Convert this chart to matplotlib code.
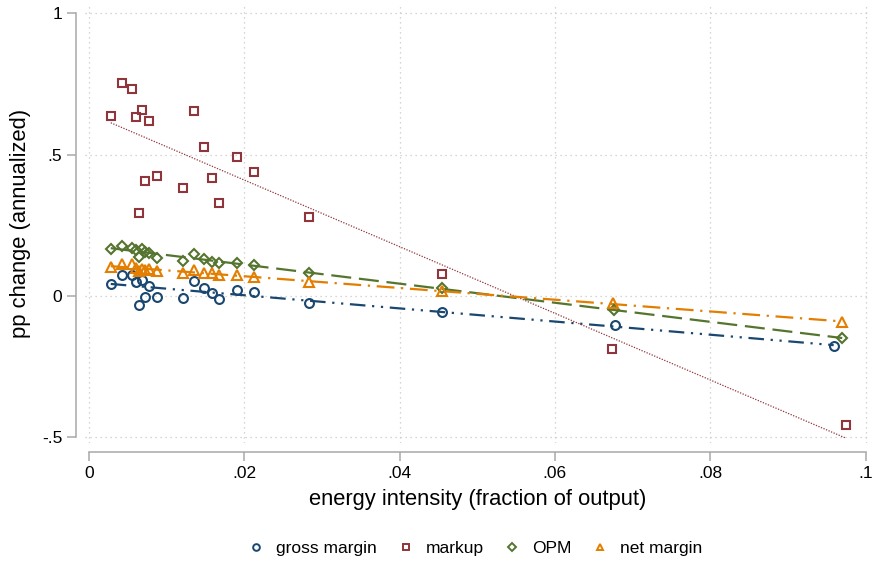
import numpy as np
import matplotlib
matplotlib.use("Agg")
import matplotlib.pyplot as plt
from matplotlib.lines import Line2D

plt.rcParams["font.family"] = ["Liberation Sans", "DejaVu Sans"]

# binned means
x_gross = [0.0028, 0.0043, 0.0055, 0.0060, 0.0065, 0.0068, 0.0072, 0.0077, 0.0088, 0.0121,
           0.0135, 0.0148, 0.0158, 0.0167, 0.0191, 0.0213, 0.0283, 0.0455, 0.0677, 0.0959]
y_gross = [0.042, 0.074, 0.074, 0.051, -0.032, 0.057, -0.002, 0.035, -0.005, -0.008,
           0.053, 0.027, 0.010, -0.011, 0.021, 0.015, -0.023, -0.058, -0.103, -0.177]

x_markup = [0.0028, 0.0043, 0.0055, 0.0060, 0.0065, 0.0068, 0.0072, 0.0077, 0.0088, 0.0121,
            0.0135, 0.0148, 0.0158, 0.0167, 0.0191, 0.0213, 0.0283, 0.0455, 0.0674, 0.0975]
y_markup = [0.638, 0.752, 0.731, 0.633, 0.295, 0.659, 0.407, 0.619, 0.424, 0.382,
            0.654, 0.528, 0.417, 0.329, 0.490, 0.440, 0.281, 0.078, -0.187, -0.456]

x_opm = [0.0028, 0.0043, 0.0055, 0.0060, 0.0065, 0.0068, 0.0072, 0.0077, 0.0088, 0.0121,
         0.0135, 0.0148, 0.0158, 0.0167, 0.0191, 0.0213, 0.0283, 0.0455, 0.0676, 0.0970]
y_opm = [0.165, 0.177, 0.170, 0.164, 0.137, 0.165, 0.156, 0.153, 0.133, 0.125,
         0.148, 0.130, 0.121, 0.116, 0.118, 0.111, 0.080, 0.029, -0.050, -0.149]

x_net = [0.0028, 0.0043, 0.0055, 0.0060, 0.0065, 0.0068, 0.0072, 0.0077, 0.0088, 0.0121,
         0.0135, 0.0148, 0.0158, 0.0167, 0.0191, 0.0213, 0.0283, 0.0455, 0.0675, 0.0970]
y_net = [0.102, 0.113, 0.113, 0.098, 0.088, 0.097, 0.092, 0.096, 0.087, 0.080,
         0.092, 0.080, 0.080, 0.074, 0.074, 0.066, 0.051, 0.018, -0.025, -0.092]

labels = ["gross margin", "markup", "OPM", "net margin"]
xticks = [0, 0.02, 0.04, 0.06, 0.08, 0.1]
xtick_labels = ["0", ".02", ".04", ".06", ".08", ".1"]
yticks = [-0.5, 0, 0.5, 1]
ytick_labels = ["-.5", "0", ".5", "1"]

series = [
    (x_gross, y_gross, "o", "#1a476f", (7, 3, 1, 3, 1, 3), 1.6),
    (x_markup, y_markup, "s", "#90353b", (1, 1.2), 0.9),
    (x_opm, y_opm, "D", "#55752f", (9, 3.5), 1.6),
    (x_net, y_net, "^", "#e37e00", (8, 3, 1, 3), 1.6),
]
msize = {"o": 6.4, "s": 6.2, "D": 5.6, "^": 6.6}

fig = plt.figure(figsize=(8.75, 5.63), dpi=100)
ax = fig.add_axes([0.0973, 0.2131, 0.8963, 0.7783])

for xs, ys, mk, col, dash, lw in series:
    xs = np.asarray(xs)
    ys = np.asarray(ys)
    # linear fit over the observed range
    b, a = np.polyfit(xs, ys, 1)
    xf = np.array([xs.min(), xs.max()])
    ax.plot(xf, a + b * xf, color=col, lw=lw, dashes=dash, zorder=2)
    ax.plot(xs, ys, ls="none", marker=mk, ms=msize[mk], mfc="none", mec=col,
            mew=1.5, zorder=3)

ax.set_xlim(-0.0005, 0.1005)
ax.set_ylim(-0.52, 1.03)
ax.set_xticks(xticks)
ax.set_xticklabels(xtick_labels)
ax.set_yticks(yticks)
ax.set_yticklabels(ytick_labels)
ax.grid(True, color="#c8c8c8", ls=(0, (1, 3)), lw=0.9)
ax.set_axisbelow(True)

for s in ["top", "right"]:
    ax.spines[s].set_visible(False)
ax.spines["left"].set_position(("outward", 6.5))
ax.spines["bottom"].set_position(("outward", 6.5))
ax.spines["left"].set_bounds(-0.5, 1)
ax.spines["bottom"].set_bounds(0, 0.1)
for s in ["left", "bottom"]:
    ax.spines[s].set_color("#a8a8a8")
    ax.spines[s].set_linewidth(1.1)
ax.tick_params(axis="both", colors="#a8a8a8", length=6.5, width=1.1,
               labelsize=12.5, labelcolor="black")

ax.set_xlabel("energy intensity (fraction of output)", fontsize=15.8, labelpad=6)
ax.set_ylabel("pp change (annualized)", fontsize=15.8, labelpad=8)

handles = [Line2D([], [], ls="none", marker=mk, ms=msize[mk] * 0.75, mfc="none",
                  mec=col, mew=1.4) for _, _, mk, col, _, _ in series]
fig.legend(handles, labels, loc="center", bbox_to_anchor=(0.543, 0.026), ncol=4,
           frameon=False, fontsize=12.5, handlelength=1.0, handletextpad=0.65,
           columnspacing=1.15)

fig.savefig("out.png", dpi=100)
